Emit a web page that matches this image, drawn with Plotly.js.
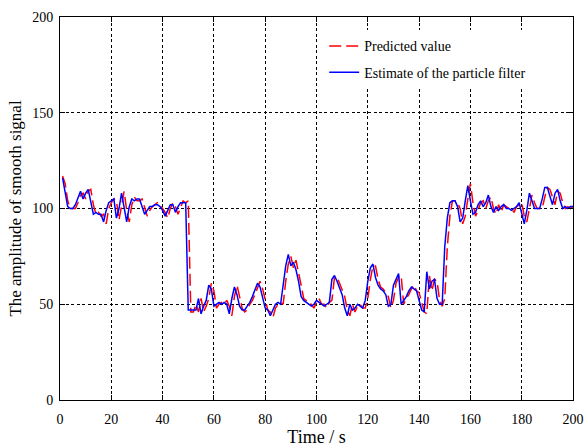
<!DOCTYPE html>
<html>
<head>
<meta charset="utf-8">
<script src="https://cdn.plot.ly/plotly-3.0.1.min.js"></script>
<style>html,body{margin:0;padding:0;background:#fff;}#chart{width:585px;height:448px;}</style>
</head>
<body>
<div id="chart"></div>
<script>
// Time axis (s)
const timeSec = Array.from({length: 200}, (_, i) => i + 1);

// Estimate of the particle filter (blue)
const estimateValues = [
116,108,101,100,100,102,106,109,105,108,
110,104,97,98,97,97,93,99,103,104,
105,95,100,108,100,93,101,105,104,105,
105,101,97,99,101,101,102,102,101,99,
96,99,102,102,98,101,103,103,103,47,
47,47,47,53,45,49,52,60,58,49,
50,51,50,51,50,45,53,59,55,49,
47,47,49,51,54,58,61,59,53,48,
47,44,47,50,51,50,60,70,76,70,
72,68,62,54,52,51,50,49,50,52,
51,50,49,50,51,63,65,62,58,55,
48,44,50,47,48,50,49,48,52,62,
69,71,64,60,58,57,55,49,50,60,
63,66,50,52,54,57,59,58,57,52,
47,46,67,58,62,63,53,50,50,80,
95,103,104,104,101,93,95,104,112,104,
97,98,102,104,101,103,107,101,98,101,
99,101,102,100,100,99,100,101,103,98,
92,99,108,104,100,100,100,105,111,111,
107,102,108,110,104,100,101,100,101,101
];

// Predicted value (red dashed)
const predictedValues = [
117,113,104,100,100,100,103,107,108,105,
109,110,102,97,98,96,97,92,100,103,
105,104,94,101,109,99,93,102,106,104,
104,105,100,96,99,101,102,103,102,100,
98,95,100,103,101,97,101,104,103,104,
46,46,50,46,53,46,49,53,61,57,
48,50,51,50,52,49,44,54,60,54,
48,46,47,50,52,55,59,62,58,52,
47,46,43,48,50,51,50,62,71,75,
69,73,67,60,53,52,50,50,48,51,
53,50,50,48,51,52,64,64,61,57,
54,47,44,50,46,49,50,48,48,53,
63,70,70,63,59,58,56,54,48,52,
61,64,65,50,53,55,58,60,57,56,
51,46,45,65,57,63,62,52,49,53,
80,96,104,104,103,100,92,96,105,113,
103,96,99,103,104,100,104,106,100,97,
102,98,102,101,100,100,98,101,102,103,
96,93,100,107,103,100,100,100,106,111,
110,106,102,109,108,103,100,101,100,101
];

const xTickVals = [0,20,40,60,80,100,120,140,160,180,200];
const yTickVals = [0,50,100,150,200];

const serif = "'Liberation Serif', 'Times New Roman', serif";

const traces = [
  {
    x: timeSec, y: predictedValues, type: 'scatter', mode: 'lines',
    name: 'Predicted value', legendgroup: 'a',
    line: {color: '#ff0000', width: 1.5, dash: '12px,5px'}
  },
  {
    x: timeSec, y: estimateValues, type: 'scatter', mode: 'lines',
    name: 'Estimate of the particle filter', legendgroup: 'b',
    line: {color: '#0000ff', width: 1.5}
  }
];

const axisCommon = {
  showline: true, linecolor: '#000', linewidth: 1, mirror: 'ticks',
  ticks: 'inside', ticklen: 5, tickcolor: '#000',
  showgrid: true, gridcolor: '#000', gridwidth: 1, griddash: '3px,2.5px',
  zeroline: false,
  tickfont: {family: serif, size: 14, color: '#000'}
};

const layout = {
  width: 585, height: 448,
  margin: {l: 60, r: 12, t: 17, b: 48},
  paper_bgcolor: '#fff', plot_bgcolor: '#fff',
  showlegend: true,
  legend: {
    x: 0.515, y: 0.965, xanchor: 'left', yanchor: 'top',
    bgcolor: '#fff', borderwidth: 0,
    font: {family: serif, size: 14, color: '#000'},
    tracegroupgap: 5
  },
  xaxis: Object.assign({}, axisCommon, {
    range: [0, 200], tickvals: xTickVals, ticktext: xTickVals.map(String),
    ticklabelstandoff: 6,
    title: {text: 'Time / s', font: {family: serif, size: 18, color: '#000'}, standoff: 1}
  }),
  yaxis: Object.assign({}, axisCommon, {
    range: [0, 200], tickvals: yTickVals, ticktext: yTickVals.map(String),
    ticklabelstandoff: 3,
    title: {text: 'The amplitude of smooth signal', font: {family: serif, size: 17, color: '#000'}, standoff: 6}
  })
};

Plotly.newPlot('chart', traces, layout, {displayModeBar: false, staticPlot: true});
</script>
</body>
</html>
